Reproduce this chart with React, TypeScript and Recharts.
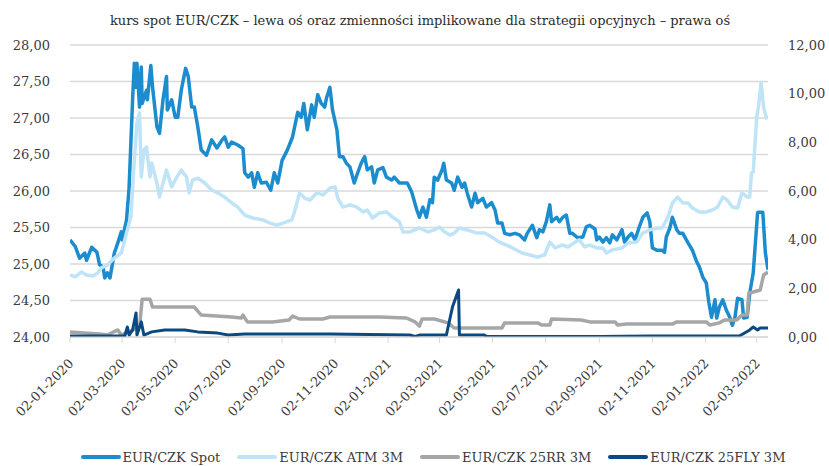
import {
  LineChart,
  Line,
  XAxis,
  YAxis,
  CartesianGrid,
  Legend,
} from "recharts";

const FONT = "'DejaVu Serif', serif";
const TEXT = "#3b3b3b";

const START = "2020-01-02";
const END = "2022-03-15";

const xTickDates = [
  "2020-01-02", "2020-03-02", "2020-05-02", "2020-07-02", "2020-09-02",
  "2020-11-02", "2021-01-02", "2021-03-02", "2021-05-02", "2021-07-02",
  "2021-09-02", "2021-11-02", "2022-01-02", "2022-03-02",
];
const leftTicks = [24, 24.5, 25, 25.5, 26, 26.5, 27, 27.5, 28];
const rightTicks = [0, 2, 4, 6, 8, 10, 12];

const seriesNames = ["EUR/CZK Spot", "EUR/CZK ATM 3M", "EUR/CZK 25RR 3M", "EUR/CZK 25FLY 3M"];
const seriesColors = ["#1b8dcf", "#bfe4f8", "#a6a6a6", "#0a4a80"];

// spot, left axis
const spot: [string, number][] = [
  ["2020-01-02", 25.33], ["2020-01-08", 25.24], ["2020-01-13", 25.08], ["2020-01-19", 25.15],
  ["2020-01-21", 25.05], ["2020-01-27", 25.23], ["2020-02-02", 25.16], ["2020-02-05", 24.99],
  ["2020-02-09", 24.96], ["2020-02-11", 24.81], ["2020-02-14", 24.88], ["2020-02-17", 24.81],
  ["2020-02-22", 25.15], ["2020-02-26", 25.29], ["2020-03-01", 25.44], ["2020-03-02", 25.33],
  ["2020-03-07", 25.6], ["2020-03-10", 26.05], ["2020-03-14", 27.25], ["2020-03-16", 27.75],
  ["2020-03-18", 27.42], ["2020-03-19", 27.75], ["2020-03-22", 27.15], ["2020-03-24", 27.7],
  ["2020-03-25", 27.2], ["2020-03-30", 27.38], ["2020-03-31", 27.25], ["2020-04-04", 27.72],
  ["2020-04-06", 27.42], ["2020-04-11", 26.88], ["2020-04-14", 26.79], ["2020-04-18", 27.25],
  ["2020-04-22", 27.57], ["2020-04-23", 27.11], ["2020-04-28", 27.25], ["2020-05-02", 27.01],
  ["2020-05-05", 27.01], ["2020-05-09", 27.38], ["2020-05-14", 27.68], ["2020-05-17", 27.57],
  ["2020-05-21", 27.15], ["2020-05-24", 27.15], ["2020-05-28", 26.88], ["2020-06-01", 26.56],
  ["2020-06-07", 26.49], ["2020-06-13", 26.7], ["2020-06-19", 26.59], ["2020-06-25", 26.7],
  ["2020-06-28", 26.74], ["2020-07-02", 26.6], ["2020-07-06", 26.67], ["2020-07-13", 26.63],
  ["2020-07-19", 26.58], ["2020-07-21", 26.25], ["2020-07-25", 26.19], ["2020-07-29", 26.25],
  ["2020-08-01", 26.05], ["2020-08-05", 26.25], ["2020-08-09", 26.11], ["2020-08-15", 26.12],
  ["2020-08-20", 26.01], ["2020-08-24", 26.25], ["2020-08-28", 26.11], ["2020-09-02", 26.42],
  ["2020-09-08", 26.56], ["2020-09-14", 26.74], ["2020-09-20", 27.08], ["2020-09-24", 27.01],
  ["2020-09-27", 27.2], ["2020-10-01", 26.84], ["2020-10-06", 27.18], ["2020-10-09", 27.01],
  ["2020-10-13", 27.32], ["2020-10-17", 27.2], ["2020-10-21", 27.15], ["2020-10-23", 27.27],
  ["2020-10-27", 27.42], ["2020-10-30", 27.11], ["2020-11-04", 26.84], ["2020-11-07", 26.47],
  ["2020-11-11", 26.47], ["2020-11-15", 26.38], ["2020-11-19", 26.33], ["2020-11-24", 26.11],
  ["2020-11-28", 26.25], ["2020-12-02", 26.38], ["2020-12-06", 26.47], ["2020-12-09", 26.29],
  ["2020-12-14", 26.33], ["2020-12-17", 26.11], ["2020-12-21", 26.29], ["2020-12-27", 26.32],
  ["2020-12-31", 26.19], ["2021-01-06", 26.15], ["2021-01-09", 26.19], ["2021-01-15", 26.11],
  ["2021-01-24", 26.11], ["2021-01-29", 25.99], ["2021-02-04", 25.74], ["2021-02-07", 25.64],
  ["2021-02-11", 25.78], ["2021-02-15", 25.64], ["2021-02-19", 25.88], ["2021-02-22", 25.84],
  ["2021-02-24", 26.19], ["2021-02-28", 26.15], ["2021-03-05", 26.29], ["2021-03-07", 26.38],
  ["2021-03-10", 26.15], ["2021-03-16", 26.11], ["2021-03-19", 26.01], ["2021-03-23", 26.19],
  ["2021-03-28", 26.05], ["2021-03-31", 26.11], ["2021-04-03", 25.97], ["2021-04-08", 25.78],
  ["2021-04-12", 25.97], ["2021-04-15", 25.84], ["2021-04-21", 25.9], ["2021-04-25", 25.78],
  ["2021-05-01", 25.84], ["2021-05-05", 25.74], ["2021-05-08", 25.56], ["2021-05-13", 25.56],
  ["2021-05-16", 25.42], ["2021-05-22", 25.4], ["2021-05-28", 25.42], ["2021-06-02", 25.4],
  ["2021-06-08", 25.33], ["2021-06-11", 25.42], ["2021-06-17", 25.53], ["2021-06-22", 25.36],
  ["2021-06-25", 25.47], ["2021-06-29", 25.44], ["2021-07-03", 25.58], ["2021-07-07", 25.81],
  ["2021-07-09", 25.58], ["2021-07-15", 25.64], ["2021-07-18", 25.58], ["2021-07-22", 25.64],
  ["2021-07-26", 25.67], ["2021-07-30", 25.42], ["2021-08-02", 25.42], ["2021-08-08", 25.36],
  ["2021-08-14", 25.37], ["2021-08-18", 25.51], ["2021-08-22", 25.53], ["2021-08-28", 25.48],
  ["2021-08-30", 25.33], ["2021-09-02", 25.37], ["2021-09-06", 25.3], ["2021-09-10", 25.36],
  ["2021-09-14", 25.29], ["2021-09-17", 25.4], ["2021-09-22", 25.33], ["2021-09-28", 25.47],
  ["2021-10-01", 25.3], ["2021-10-05", 25.37], ["2021-10-09", 25.42], ["2021-10-13", 25.33],
  ["2021-10-18", 25.51], ["2021-10-22", 25.64], ["2021-10-27", 25.7], ["2021-10-30", 25.58],
  ["2021-11-02", 25.22], ["2021-11-07", 25.19], ["2021-11-13", 25.19], ["2021-11-16", 25.16],
  ["2021-11-18", 25.37], ["2021-11-22", 25.49], ["2021-11-25", 25.64], ["2021-11-30", 25.47],
  ["2021-12-03", 25.42], ["2021-12-07", 25.42], ["2021-12-13", 25.29], ["2021-12-18", 25.19],
  ["2021-12-23", 25.03], ["2021-12-26", 24.96], ["2021-12-30", 24.82], ["2022-01-03", 24.74],
  ["2022-01-06", 24.47], ["2022-01-09", 24.27], ["2022-01-13", 24.51], ["2022-01-15", 24.26],
  ["2022-01-18", 24.41], ["2022-01-22", 24.51], ["2022-01-26", 24.37], ["2022-01-30", 24.27],
  ["2022-02-02", 24.16], ["2022-02-05", 24.27], ["2022-02-08", 24.53], ["2022-02-13", 24.51],
  ["2022-02-15", 24.26], ["2022-02-19", 24.27], ["2022-02-22", 24.6], ["2022-02-26", 24.88],
  ["2022-03-03", 25.7], ["2022-03-04", 25.71], ["2022-03-09", 25.71], ["2022-03-12", 25.15],
  ["2022-03-15", 24.92],
];

// ATM 3M volatility, right axis
const atm: [string, number][] = [
  ["2020-01-02", 2.55], ["2020-01-08", 2.47], ["2020-01-15", 2.67], ["2020-01-21", 2.55],
  ["2020-01-28", 2.51], ["2020-02-03", 2.63], ["2020-02-07", 2.84], ["2020-02-14", 2.96],
  ["2020-02-22", 3.25], ["2020-03-01", 3.45], ["2020-03-07", 4.27], ["2020-03-12", 4.93],
  ["2020-03-16", 7.27], ["2020-03-19", 8.8], ["2020-03-22", 9.21], ["2020-03-24", 6.58],
  ["2020-03-27", 7.69], ["2020-03-30", 7.81], ["2020-04-03", 6.58], ["2020-04-05", 7.15],
  ["2020-04-11", 6.33], ["2020-04-14", 5.75], ["2020-04-18", 6.33], ["2020-04-22", 6.86],
  ["2020-04-28", 6.17], ["2020-05-04", 6.58], ["2020-05-09", 6.86], ["2020-05-15", 6.58],
  ["2020-05-18", 5.92], ["2020-05-22", 6.45], ["2020-05-28", 6.53], ["2020-06-05", 6.33],
  ["2020-06-13", 6.04], ["2020-06-20", 5.92], ["2020-06-28", 5.75], ["2020-07-06", 5.51],
  ["2020-07-13", 5.34], ["2020-07-21", 5.01], ["2020-07-30", 4.89], ["2020-08-11", 4.81],
  ["2020-08-19", 4.68], ["2020-08-27", 4.6], ["2020-09-03", 4.68], ["2020-09-13", 4.81],
  ["2020-09-16", 5.1], ["2020-09-22", 5.92], ["2020-09-28", 5.71], ["2020-10-04", 5.63],
  ["2020-10-12", 5.92], ["2020-10-19", 5.84], ["2020-10-27", 6.12], ["2020-11-02", 6.17],
  ["2020-11-05", 5.71], ["2020-11-11", 5.34], ["2020-11-19", 5.43], ["2020-11-27", 5.34],
  ["2020-12-04", 5.14], ["2020-12-09", 5.22], ["2020-12-15", 4.89], ["2020-12-23", 5.1],
  ["2020-12-31", 5.14], ["2021-01-07", 4.93], ["2021-01-15", 4.73], ["2021-01-19", 4.32],
  ["2021-01-27", 4.32], ["2021-02-07", 4.48], ["2021-02-17", 4.32], ["2021-02-24", 4.4],
  ["2021-03-02", 4.52], ["2021-03-08", 4.32], ["2021-03-14", 4.19], ["2021-03-19", 4.27],
  ["2021-03-25", 4.48], ["2021-04-03", 4.4], ["2021-04-14", 4.27], ["2021-04-23", 4.27],
  ["2021-05-01", 4.11], ["2021-05-10", 3.9], ["2021-05-18", 3.78], ["2021-05-25", 3.66],
  ["2021-06-05", 3.45], ["2021-06-14", 3.37], ["2021-06-23", 3.29], ["2021-07-01", 3.37],
  ["2021-07-07", 3.9], ["2021-07-13", 3.66], ["2021-07-21", 3.78], ["2021-07-28", 3.7],
  ["2021-08-05", 3.9], ["2021-08-10", 3.99], ["2021-08-16", 3.7], ["2021-08-22", 3.78],
  ["2021-08-30", 3.66], ["2021-09-06", 3.66], ["2021-09-10", 3.45], ["2021-09-17", 3.58],
  ["2021-09-28", 3.66], ["2021-10-05", 3.86], ["2021-10-15", 3.9], ["2021-10-22", 4.27],
  ["2021-10-30", 4.4], ["2021-11-07", 4.48], ["2021-11-13", 4.48], ["2021-11-20", 4.93],
  ["2021-11-25", 5.51], ["2021-12-01", 5.75], ["2021-12-07", 5.51], ["2021-12-13", 5.51],
  ["2021-12-18", 5.3], ["2021-12-26", 5.14], ["2022-01-03", 5.14], ["2022-01-10", 5.22],
  ["2022-01-16", 5.34], ["2022-01-22", 5.75], ["2022-01-27", 5.63], ["2022-02-02", 5.34],
  ["2022-02-08", 5.3], ["2022-02-13", 5.92], ["2022-02-19", 5.75], ["2022-02-22", 5.75],
  ["2022-02-24", 6.74], ["2022-02-26", 6.78], ["2022-03-02", 9.04], ["2022-03-04", 9.45],
  ["2022-03-07", 10.44], ["2022-03-10", 9.45], ["2022-03-13", 9.0], ["2022-03-15", 9.12],
];

// 25 delta risk reversal, right axis
const rr: [string, number][] = [
  ["2020-01-02", 0.21], ["2020-01-19", 0.16], ["2020-02-05", 0.12], ["2020-02-14", 0.08],
  ["2020-02-26", 0.29], ["2020-03-01", 0.08], ["2020-03-22", 0.41], ["2020-03-25", 1.55],
  ["2020-04-03", 1.55], ["2020-04-06", 1.23], ["2020-05-24", 1.23], ["2020-05-30", 0.98],
  ["2020-06-01", 0.9], ["2020-07-06", 0.82], ["2020-07-17", 0.78], ["2020-07-19", 0.9],
  ["2020-07-24", 0.62], ["2020-08-22", 0.62], ["2020-09-10", 0.7], ["2020-09-14", 0.86],
  ["2020-09-22", 0.74], ["2020-10-19", 0.74], ["2020-10-27", 0.82], ["2020-12-23", 0.82],
  ["2021-01-23", 0.78], ["2021-02-02", 0.62], ["2021-02-07", 0.45], ["2021-02-10", 0.74],
  ["2021-02-24", 0.74], ["2021-03-12", 0.58], ["2021-03-19", 0.37], ["2021-05-13", 0.37],
  ["2021-05-16", 0.58], ["2021-06-23", 0.58], ["2021-06-28", 0.49], ["2021-07-07", 0.49],
  ["2021-07-09", 0.74], ["2021-08-12", 0.7], ["2021-08-22", 0.62], ["2021-09-20", 0.62],
  ["2021-09-23", 0.49], ["2021-10-03", 0.53], ["2021-11-25", 0.53], ["2021-11-30", 0.62],
  ["2022-01-03", 0.62], ["2022-01-07", 0.49], ["2022-01-18", 0.58], ["2022-01-24", 0.7],
  ["2022-02-07", 0.7], ["2022-02-13", 0.9], ["2022-02-19", 0.9], ["2022-02-21", 1.81],
  ["2022-02-26", 1.85], ["2022-03-06", 1.93], ["2022-03-10", 2.55], ["2022-03-15", 2.67],
];

// 25 delta butterfly, right axis
const fly: [string, number][] = [
  ["2020-01-02", 0.04], ["2020-03-05", 0.04], ["2020-03-08", 0.41], ["2020-03-10", 0.08],
  ["2020-03-14", 0.29], ["2020-03-18", 0.99], ["2020-03-19", 0.08], ["2020-03-24", 0.62],
  ["2020-03-27", 0.08], ["2020-04-05", 0.21], ["2020-04-20", 0.29], ["2020-05-13", 0.29],
  ["2020-05-28", 0.21], ["2020-06-20", 0.16], ["2020-07-02", 0.08], ["2020-07-21", 0.12],
  ["2020-10-27", 0.12], ["2021-01-27", 0.08], ["2021-02-02", 0.02], ["2021-02-07", 0.08],
  ["2021-03-10", 0.08], ["2021-03-17", 1.23], ["2021-03-24", 1.93], ["2021-03-25", 0.08],
  ["2021-04-23", 0.08], ["2021-04-25", 0.02], ["2021-09-02", 0.02], ["2021-10-30", 0.04],
  ["2022-02-10", 0.04], ["2022-02-22", 0.29], ["2022-02-26", 0.41], ["2022-03-03", 0.29],
  ["2022-03-06", 0.37], ["2022-03-15", 0.37],
];

const DAY = 86400000;
const toDay = (d: string) => Math.round((Date.parse(d) - Date.parse(START)) / DAY);
const toRows = (s: [string, number][]) => s.map(([d, v]) => ({ t: toDay(d), v }));

const fmtNum = (v: number) => v.toFixed(2).replace(".", ",");
const fmtDate = (t: number) => {
  const d = new Date(Date.parse(START) + t * DAY);
  const dd = String(d.getUTCDate()).padStart(2, "0");
  const mm = String(d.getUTCMonth() + 1).padStart(2, "0");
  return `${dd}-${mm}-${d.getUTCFullYear()}`;
};

const DateTick = (props: any) => {
  const { x, y, payload } = props;
  return (
    <g transform={`translate(${x + 1},${y})`}>
      <text
        transform="rotate(-45)"
        textAnchor="end"
        dy="0.35em"
        fill={TEXT}
        fontSize={13}
        fontFamily={FONT}
      >
        {fmtDate(payload.value)}
      </text>
    </g>
  );
};

const LegendBox = () => (
  <div
    style={{
      display: "flex",
      justifyContent: "center",
      alignItems: "center",
      height: 18,
      width: 829,
      paddingLeft: 37,
      boxSizing: "border-box",
      fontFamily: FONT,
      fontSize: 13,
      color: TEXT,
    }}
  >
    {seriesNames.map((n, i) => (
      <div key={n} style={{ display: "flex", alignItems: "center", marginRight: i < 3 ? 17 : 0 }}>
        <svg width={40} height={6}>
          <line x1={2} y1={3} x2={38} y2={3} stroke={seriesColors[i]} strokeWidth={4} strokeLinecap="round" />
        </svg>
        <span style={{ marginLeft: 2, whiteSpace: "nowrap" }}>{n}</span>
      </div>
    ))}
  </div>
);

export default function App() {
  const rows = [toRows(spot), toRows(atm), toRows(rr), toRows(fly)];
  const widths = [3.5, 3.5, 3.5, 3];
  return (
    <div style={{ position: "absolute", left: 0, top: 0, width: 829, height: 466, background: "#fff" }}>
      <div
        style={{
          position: "absolute",
          top: 13,
          left: 0,
          width: 829,
          paddingLeft: 11,
          boxSizing: "border-box",
          textAlign: "center",
          fontFamily: FONT,
          fontSize: 13,
          color: "#2b2b2b",
          zIndex: 2,
        }}
      >
        kurs spot EUR/CZK – lewa oś oraz zmienności implikowane dla strategii opcyjnych – prawa oś
      </div>
      <LineChart width={829} height={466} margin={{ top: 45, right: 0, bottom: 0, left: 0 }}>
        <CartesianGrid vertical={false} stroke="#d9d9d9" strokeWidth={1.3} />
        <XAxis
          dataKey="t"
          type="number"
          domain={[0, toDay(END)]}
          ticks={xTickDates.map(toDay)}
          allowDataOverflow
          height={111}
          stroke="#d9d9d9"
          tickSize={6}
          tickMargin={18}
          tick={<DateTick />}
          interval={0}
        />
        <YAxis
          domain={[24, 28]}
          ticks={leftTicks}
          width={70}
          axisLine={false}
          tickLine={false}
          tickSize={6}
          tickMargin={14}
          tickFormatter={fmtNum}
          tick={{ fill: TEXT, fontSize: 13, fontFamily: FONT }}
          allowDataOverflow
        />
        <YAxis
          yAxisId="right"
          orientation="right"
          domain={[0, 12]}
          ticks={rightTicks}
          width={61}
          axisLine={false}
          tickLine={false}
          tickSize={6}
          tickMargin={14}
          tickFormatter={fmtNum}
          tick={{ fill: TEXT, fontSize: 13, fontFamily: FONT }}
          allowDataOverflow
        />
        <Legend verticalAlign="bottom" content={<LegendBox />} wrapperStyle={{ left: 0, width: 829 }} />
        {rows.map((data, i) => (
          <Line
            key={seriesNames[i]}
            data={data}
            dataKey="v"
            name={seriesNames[i]}
            yAxisId={i === 0 ? 0 : "right"}
            type="linear"
            stroke={seriesColors[i]}
            strokeWidth={widths[i]}
            strokeLinejoin="round"
            dot={false}
            activeDot={false}
            isAnimationActive={false}
          />
        ))}
      </LineChart>
    </div>
  );
}
